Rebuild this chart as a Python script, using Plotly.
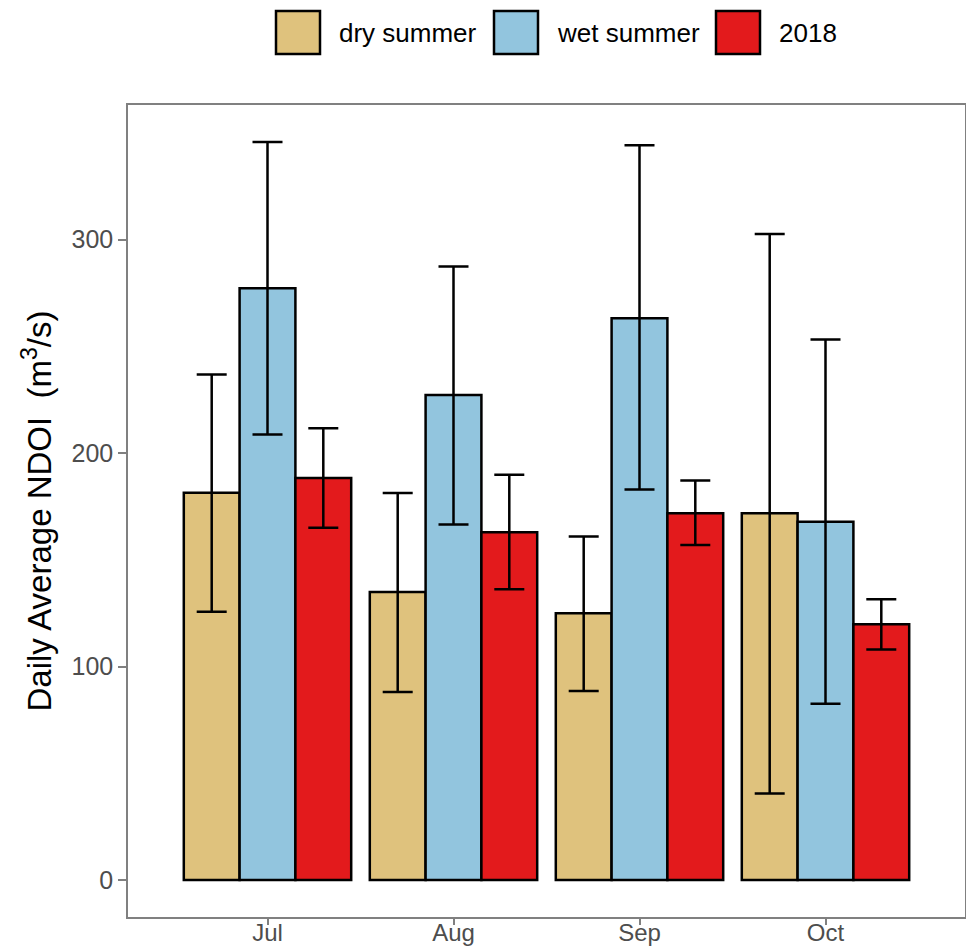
import plotly.graph_objects as go

months = ["Jul", "Aug", "Sep", "Oct"]
series_names = ["dry summer", "wet summer", "2018"]

dry_mean = [181.4, 134.9, 125.0, 171.8]
dry_upper = [236.8, 181.3, 160.9, 302.7]
dry_lower = [125.7, 88.1, 88.6, 40.5]

wet_mean = [277.3, 227.3, 263.2, 167.9]
wet_upper = [345.8, 287.5, 344.2, 253.3]
wet_lower = [208.7, 166.6, 183.0, 82.6]

y2018_mean = [188.4, 163.0, 171.9, 119.9]
y2018_upper = [211.7, 189.9, 187.2, 131.5]
y2018_lower = [165.0, 136.3, 157.0, 108.0]

colors = ["#DFC27D", "#92C5DE", "#E31A1C"]
y_ticks = [0, 100, 200, 300]

means = [dry_mean, wet_mean, y2018_mean]
uppers = [dry_upper, wet_upper, y2018_upper]
lowers = [dry_lower, wet_lower, y2018_lower]

fig = go.Figure()
for name, m, up, lo, c in zip(series_names, means, uppers, lowers, colors):
    fig.add_trace(go.Bar(
        x=months, y=m, name=name,
        marker=dict(color=c, line=dict(color="black", width=2.5)),
        error_y=dict(type="data", symmetric=False,
                     array=[u - v for u, v in zip(up, m)],
                     arrayminus=[v - l for v, l in zip(m, lo)],
                     color="black", thickness=2.5, width=15),
        showlegend=False,
    ))

L, R, T, B = 128, 1, 105, 30
W, H = 966, 947
pw, ph = W - L - R, H - T - B

def px_x(px):
    return (px - L) / pw

def px_y(py):
    return (H - B - py) / ph

shapes = []
annotations = []
box_x = [276, 494, 716]
text_x = [337, 555, 777]
for bx, tx, name, c in zip(box_x, text_x, series_names, colors):
    shapes.append(dict(type="rect", xref="paper", yref="paper",
                       x0=px_x(bx), x1=px_x(bx + 44), y0=px_y(54), y1=px_y(11),
                       fillcolor=c, line=dict(color="black", width=2.5)))
    annotations.append(dict(text=name, xref="paper", yref="paper",
                            x=px_x(tx), y=px_y(33), xanchor="left", yanchor="middle",
                            showarrow=False,
                            font=dict(family="Liberation Sans, Arial", size=26, color="black")))

fig.update_layout(
    template="none",
    width=W, height=H,
    margin=dict(l=L, r=R, t=T, b=B, autoexpand=False),
    paper_bgcolor="white", plot_bgcolor="white",
    barmode="group", bargap=0.1, bargroupgap=0,
    font=dict(family="Liberation Sans, Arial"),
    shapes=shapes, annotations=annotations,
    xaxis=dict(range=[-0.75, 3.75], showline=True, mirror=True, linecolor="#808080",
               linewidth=1.5, ticks="outside", ticklen=6, tickwidth=1.5, tickcolor="#808080",
               tickfont=dict(size=24, color="#4D4D4D"), showgrid=False, zeroline=False,
               automargin=False, ticklabelstandoff=-13),
    yaxis=dict(range=[-17.3, 363.1], showline=True, mirror=True, linecolor="#808080",
               linewidth=1.5, ticks="outside", ticklen=8, tickwidth=1.5, tickcolor="#808080",
               tickvals=y_ticks, tickfont=dict(size=25, color="#4D4D4D"),
               showgrid=False, zeroline=False, automargin=False,
               title=dict(text="Daily Average NDOI  (m<sup>3</sup>/s)",
                          font=dict(size=33, color="black"), standoff=10)),
)

fig.write_html("out.html")
